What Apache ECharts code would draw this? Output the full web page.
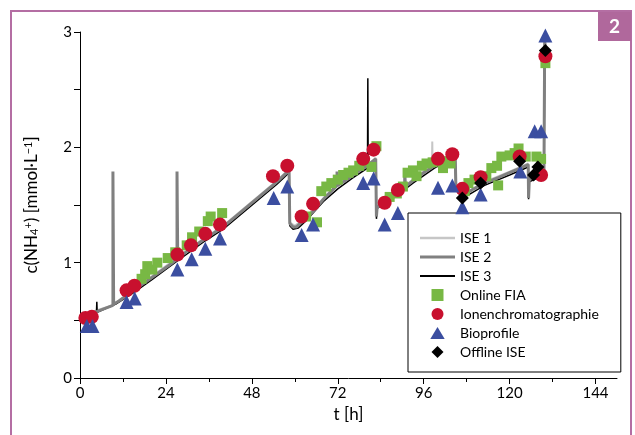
<!DOCTYPE html>
<html><head><meta charset="utf-8">
<script src="https://cdn.jsdelivr.net/npm/echarts@6/dist/echarts.min.js"></script>
<style>html,body{margin:0;padding:0;background:#fff}#c{width:635px;height:435px}</style>
</head><body><div id="c"></div>
<script>
// ---- data ----
const xTicks = [0, 24, 48, 72, 96, 120, 144];
const xMinorTicks = [12, 36, 60, 84, 108, 132];
const yTicks = [0, 1, 2, 3];

const ise1 = [[0,0.54],[5,0.59],[9,0.63],[15,0.77],[20,0.88],[27,1.04],[35,1.22],[40,1.32],[50,1.58],[55,1.71],[58.4,1.81],[58.6,1.35],[60,1.32],[63,1.39],[68,1.56],[72,1.68],[76,1.75],[80,1.83],[82.6,1.91],[82.8,1.41],[83,1.49],[88,1.60],[93,1.72],[96,1.79],[98.3,1.83],[98.4,2.05],[98.5,1.84],[100,1.86],[101.3,1.87],[101.4,1.80],[101.5,1.87],[104.8,1.95],[105,1.67],[107,1.59],[113,1.70],[120,1.79],[125.2,1.86],[125.3,1.57],[125.5,1.73],[129.6,1.79],[129.8,2.90],[130.5,2.76]];
const ise2 = [[0,0.53],[2,0.54],[5,0.58],[9.2,0.63],[9.2,1.79],[9.4,1.79],[9.4,0.64],[11,0.67],[15,0.76],[20,0.87],[25,0.98],[27.1,1.03],[27.1,1.79],[27.3,1.79],[27.3,1.04],[30,1.10],[35,1.21],[40,1.31],[45,1.44],[50,1.57],[55,1.70],[58.4,1.80],[58.6,1.80],[58.6,1.34],[59.5,1.31],[60.5,1.31],[61.5,1.34],[63,1.38],[65,1.44],[68,1.55],[71.8,1.67],[71.8,1.79],[72,1.79],[72,1.67],[75,1.73],[78,1.80],[81,1.86],[82.6,1.90],[82.8,1.40],[83,1.48],[85,1.52],[88,1.59],[90.7,1.65],[90.7,1.80],[90.9,1.80],[90.9,1.66],[93,1.71],[96,1.78],[99,1.84],[102,1.89],[104.8,1.94],[105,1.66],[106,1.60],[107,1.58],[110,1.64],[113,1.69],[117,1.74],[120,1.78],[123,1.82],[125.2,1.85],[125.3,1.56],[125.5,1.72],[127,1.75],[129,1.76],[129.6,1.78],[129.8,2.92],[130.5,2.75]];
const ise3 = [[0,0.51],[4.6,0.57],[4.7,0.66],[4.8,0.57],[10,0.64],[15,0.74],[20,0.85],[27,1.01],[35,1.19],[40,1.29],[50,1.55],[55,1.68],[58.4,1.78],[58.6,1.32],[59.5,1.29],[61,1.30],[63,1.36],[68,1.53],[72,1.64],[76,1.73],[80.3,1.82],[80.4,2.60],[80.5,1.83],[82.6,1.88],[82.8,1.38],[83,1.47],[88,1.57],[93,1.69],[99,1.82],[104.8,1.92],[105,1.64],[107,1.56],[113,1.67],[120,1.76],[125.2,1.83],[125.3,1.55],[125.5,1.70],[129.6,1.76],[129.8,2.85],[130.5,2.75]];

const onlineFIA = [[17.2,0.86],[18.2,0.90],[18.8,0.97],[20.2,0.94],[21.6,1.00],[24.5,1.04],[26.6,1.09],[29.8,1.15],[31.3,1.22],[33.3,1.27],[35.7,1.36],[36.5,1.40],[39.7,1.43],
  [63.2,1.40],[66.2,1.35],[67.4,1.62],[68.8,1.66],[70.2,1.69],[72.0,1.72],[73.5,1.76],[75.0,1.78],[76.3,1.80],[78.0,1.84],[79.5,1.88],[81.4,1.83],[82.8,2.01],
  [86.5,1.57],[88.5,1.60],[90.2,1.66],[91.5,1.78],[93.0,1.80],[94.0,1.75],[95.5,1.84],[96.8,1.86],[98.5,1.87],[100.0,1.88],[101.4,1.82],[102.3,1.88],[103.5,1.86],
  [107.5,1.62],[108.5,1.69],[110.2,1.72],[112.0,1.74],[113.5,1.75],[114.9,1.82],[116.5,1.84],[117.7,1.92],[116.8,1.67],[120.0,1.93],[121.4,1.95],[122.5,1.99],[124.5,1.92],[127.5,1.92],[128.8,1.90],[130.0,2.73]];
const ionen = [[1.5,0.52],[3.3,0.53],[13.0,0.76],[15.2,0.80],[27.2,1.07],[31.0,1.15],[35.0,1.25],[39.1,1.33],[53.9,1.75],[57.9,1.84],[61.9,1.40],[65.1,1.51],[79.1,1.90],[82.0,1.98],[85.1,1.52],[88.8,1.63],[100.0,1.90],[104.0,1.94],[106.8,1.64],[111.9,1.74],[122.8,1.92],[128.8,1.76],[130.0,2.79]];
const bioprofile = [[1.9,0.45],[3.5,0.45],[13.0,0.66],[15.3,0.69],[27.2,0.94],[31.2,1.03],[35.0,1.12],[39.1,1.21],[54.1,1.56],[57.9,1.66],[61.9,1.24],[65.1,1.33],[79.1,1.69],[82.0,1.73],[85.1,1.33],[88.8,1.43],[100.0,1.65],[104.0,1.67],[106.8,1.48],[111.9,1.59],[123.0,1.79],[127.0,2.14],[128.8,2.14],[130.0,2.97]];
const offlineISE = [[106.8,1.56],[111.9,1.69],[122.8,1.88],[126.7,1.76],[127.9,1.83],[130.0,2.84]];

const FONT = 'Lato';
const chart = echarts.init(document.getElementById('c'), null, {renderer: 'canvas'});

const lineSeries = (name, data, color, width, z) => ({
  name, type: 'line', data, symbol: 'none', showSymbol: false, z,
  lineStyle: {color, width}, itemStyle: {color}, animation: false
});
const scatter = (name, data, symbol, size, color, z) => ({
  name, type: 'scatter', data, symbol, symbolSize: size, z,
  itemStyle: {color, opacity: 1}, animation: false
});

const lineIcon = h => 'path://M0,0 L35,0 L35,' + h + ' L0,' + h + ' Z';

chart.setOption({
  animation: false,
  textStyle: {fontFamily: FONT},
  grid: {left: 80, right: 18, top: 32, bottom: 57},
  xAxis: [{
    type: 'value', min: 0, max: 150, interval: 24,
    axisLine: {lineStyle: {color: '#000', width: 1}},
    axisTick: {show: true, length: 6, lineStyle: {color: '#000'}, customValues: xTicks},
    axisLabel: {color: '#000', fontSize: 15, fontFamily: FONT, margin: 8, customValues: xTicks},
    splitLine: {show: false},
    name: 't [h]', nameLocation: 'middle', nameGap: 28,
    nameTextStyle: {color: '#000', fontSize: 17, fontFamily: FONT}
  }, {
    type: 'value', min: 0, max: 150, position: 'bottom', gridIndex: 0,
    axisLine: {show: false},
    axisTick: {show: true, length: 4, lineStyle: {color: '#000'}, customValues: xMinorTicks},
    axisLabel: {show: false},
    splitLine: {show: false}
  }],
  yAxis: {
    type: 'value', min: 0, max: 3, interval: 1,
    axisLine: {show: true, lineStyle: {color: '#000', width: 1}},
    axisTick: {show: true, length: 6, lineStyle: {color: '#000'}},
    minorTick: {show: true, splitNumber: 2, length: 6, lineStyle: {color: '#000'}},
    axisLabel: {color: '#000', fontSize: 15, fontFamily: FONT, margin: 8},
    splitLine: {show: false},
    name: '{n|c(NH}{sub|4}{sup|+}{n|) [mmol·L}{sup|−1}{n|]}',
    nameLocation: 'middle', nameRotate: 90, nameGap: 40,
    nameTextStyle: {
      color: '#000', fontFamily: FONT,
      rich: {
        n: {fontSize: 17, fontFamily: FONT, color: '#000'},
        sub: {fontSize: 11, fontFamily: FONT, color: '#000', verticalAlign: 'bottom', padding: [6, 0, 0, 0]},
        sup: {fontSize: 11, fontFamily: FONT, color: '#000', verticalAlign: 'top', padding: [0, 0, 6, 0]}
      }
    }
  },
  legend: {
    orient: 'vertical', left: 408, top: 213,
    itemWidth: 35, itemHeight: 12, itemGap: 5,
    padding: [18, 22, 13, 12],
    borderColor: '#000', borderWidth: 1,
    symbolKeepAspect: true,
    textStyle: {color: '#000', fontSize: 14, fontFamily: FONT, lineHeight: 13},
    data: [
      {name: 'ISE 1', icon: lineIcon(2.5)},
      {name: 'ISE 2', icon: lineIcon(3)},
      {name: 'ISE 3', icon: lineIcon(2.2)},
      {name: 'Online FIA', icon: 'path://M0,0 L10,0 L10,10 L0,10 Z'},
      {name: 'Ionenchromatographie', icon: 'circle'},
      {name: 'Bioprofile', icon: 'path://M6,0 L12,10 L0,10 Z'},
      {name: 'Offline ISE', icon: 'path://M5,0 L10,5 L5,10 L0,5 Z'}
    ]
  },
  graphic: [
    {type: 'rect', shape: {x: 11, y: 11, width: 620, height: 440}, style: {fill: 'none', stroke: '#b46ea3', lineWidth: 2}, z: 100},
    {type: 'rect', shape: {x: 598, y: 12, width: 33, height: 29}, style: {fill: '#b0689c'}, z: 101},
    {type: 'text', x: 614.5, y: 26.5, style: {text: '2', fill: '#fff', font: 'bold 19px ' + FONT, textAlign: 'center', textVerticalAlign: 'middle'}, z: 102}
  ],
  series: [
    lineSeries('ISE 1', ise1, '#c6c6c6', 2, 2),
    lineSeries('ISE 3', ise3, '#000000', 1.5, 3),
    lineSeries('ISE 2', ise2, '#808080', 3, 4),
    scatter('Online FIA', onlineFIA, 'rect', 10, '#78b844', 5),
    scatter('Ionenchromatographie', ionen, 'circle', 14, '#c8102e', 6),
    scatter('Bioprofile', bioprofile, 'triangle', 14, '#3b4ea0', 7),
    scatter('Offline ISE', offlineISE, 'diamond', 13, '#000000', 8)
  ]
});
</script>
</body></html>
